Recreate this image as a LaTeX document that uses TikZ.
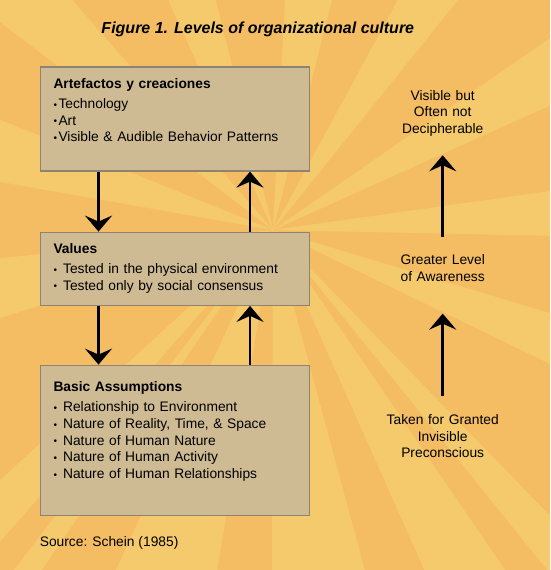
\documentclass[tikz,border=0pt]{standalone}
\usepackage{fontspec}
\setmainfont{Liberation Sans}
\usetikzlibrary{arrows.meta}

\definecolor{raydark}{HTML}{F4BD64}
\definecolor{raylight}{HTML}{F4CA6D}
\definecolor{boxfill}{HTML}{CFBB93}
\definecolor{boxline}{HTML}{8E8270}

\newcommand{\bul}{\makebox[5pt][l]{\fontsize{10}{10}\selectfont\raisebox{0.3pt}{•}}}

\begin{document}
\begin{tikzpicture}[
        x=1pt, y=-1pt,
        font=\fontsize{13.8}{16.7}\selectfont,
        level/.style={
            draw=boxline,
            fill=boxfill,
            line width=1.3pt,
            minimum width=269pt,
            anchor=north west,
            inner sep=0pt
        },
        leveltext/.style={anchor=base west, align=left, text width=250pt, inner sep=0pt},
        sidetext/.style={anchor=base, align=center, text width=140pt, inner sep=0pt},
        arr/.style={draw, line width=2.7pt, -{Stealth[length=16pt, width=27pt, inset=6pt]}}
    ]
        \useasboundingbox (0,0) rectangle (550,570);
        \clip (0,0) rectangle (550,570);
        \fill[raydark] (0,0) rectangle (550,570);
        \coordinate (sun) at (273,230);
        \foreach \a/\b in {-51.1/-45.9, -25.8/-16.7, -1.2/8, 24.2/34.7, 51.2/61.5, 75.6/87,
                104/114.5, 131.1/142.7, 158/170, 185.9/197.9, 222.5/228.8, 232.7/235.8,
                245.2/260.7, 269.8/285.1, 294/304.3}
            \fill[raylight] (sun) -- +(-\a:800) -- +(-\b:800) -- cycle;

        \node[font=\fontsize{16}{19}\selectfont\bfseries\itshape, anchor=base] (title) at (257.8,33) {Figure 1. Levels of organizational culture};

        \node[level, minimum height=104pt] (artefacts) at (40,66.3) {};
        \node[level, minimum height=73pt] (values) at (40,231.6) {};
        \node[level, minimum height=150pt] (assumptions) at (40,364.6) {};

        \node[leveltext] (artefactstext) at (53.3,88.3) {\textbf{Artefactos y creaciones}\\[3.3pt]\bul Technology\\\bul Art\\\bul Visible \& Audible Behavior Patterns};
        \node[leveltext] (valuestext) at (53.3,253.5) {\textbf{Values}\\[3.3pt]\bul\ Tested in the physical environment\\\bul\ Tested only by social consensus};
        \node[leveltext] (assumptionstext) at (53.3,391.7) {\textbf{Basic Assumptions}\\[3.3pt]\bul\ Relationship to Environment\\\bul\ Nature of Reality, Time, \& Space\\\bul\ Nature of Human Nature\\\bul\ Nature of Human Activity\\\bul\ Nature of Human Relationships};

        \coordinate (downx) at (98.5,0);
        \coordinate (upx) at (250,0);
        \draw[arr] (artefacts.south -| downx) -- (values.north -| downx);
        \draw[arr] (values.north -| upx) -- (artefacts.south -| upx);
        \draw[arr] (values.south -| downx) -- (assumptions.north -| downx);
        \draw[arr] (assumptions.north -| upx) -- (values.south -| upx);

        \node[sidetext] (visible) at (442.7,100) {Visible but\\Often not\\Decipherable};
        \node[sidetext] (greater) at (442.7,264.3) {Greater Level\\of Awareness};
        \node[sidetext] (taken) at (442.7,424.3) {Taken for Granted\\Invisible\\Preconscious};
        \draw[arr, shorten <=17pt, shorten >=18.8pt] (greater.north) -- (visible.south);
        \draw[arr, shorten <=18.3pt, shorten >=32.3pt] (taken.north) -- (greater.south);

        \node[anchor=base west, inner sep=0pt] (source) at (39.6,546.5) {Source: Schein (1985)};
\end{tikzpicture}
\end{document}
